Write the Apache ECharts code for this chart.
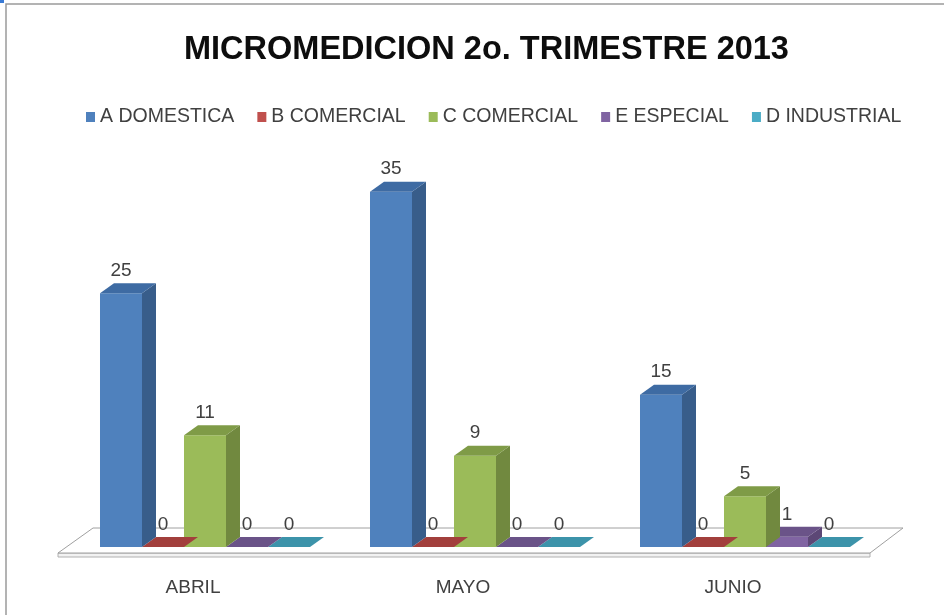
<!DOCTYPE html>
<html>
<head>
<meta charset="utf-8">
<title>MICROMEDICION 2o. TRIMESTRE 2013</title>
<script src="https://cdn.jsdelivr.net/npm/echarts@6/dist/echarts.min.js"></script>
<style>
	html,body{margin:0;padding:0;background:#fff;}
	#main{width:944px;height:615px;}
</style>
</head>
<body>
<div id="main"></div>
<script>
//datos
var meses = ['ABRIL', 'MAYO', 'JUNIO'];
var nombres = ['A DOMESTICA', 'B COMERCIAL', 'C COMERCIAL', 'E ESPECIAL', 'D INDUSTRIAL'];
var aDomestica = [25, 35, 15];
var bComercial = [0, 0, 0];
var cComercial = [11, 9, 5];
var eEspecial = [0, 0, 1];
var dIndustrial = [0, 0, 0];
var valores = [aDomestica, bComercial, cComercial, eEspecial, dIndustrial];

//colores: frente, lado, arriba
var colores = [
	['#4f81bd', '#385d8a', '#3e6ba3'],
	['#c0504d', '#8c3836', '#a23f3c'],
	['#9bbb59', '#71893f', '#7f9b47'],
	['#8064a2', '#5c4776', '#6a5388'],
	['#4bacc6', '#357d91', '#3c93aa']
];

var fuente = "'Liberation Sans', Arial, sans-serif";
var gap = 0.2222;
var dx = 14, dy = 10;

var myChart = echarts.init(document.getElementById('main'));

//barra 3d
function barra3d(idx) {
	return function (params, api) {
		var cat = api.value(0);
		var val = api.value(1);
		var base = api.coord([cat, 0]);
		var top = api.coord([cat, val]);
		var band = api.size([1, 0])[0];
		var w = band * (1 - gap) / 5;
		var x0 = base[0] - band * (1 - gap) / 2 + idx * w;
		var x1 = x0 + w;
		var yb = base[1], yt = top[1];
		var c = colores[idx];
		var hijos = [];
		if (yb - yt > 0.5) {
			hijos.push({type: 'rect', shape: {x: x0, y: yt, width: w, height: yb - yt}, style: {fill: c[0]}});
			hijos.push({type: 'polygon', shape: {points: [[x1, yt], [x1 + dx, yt - dy], [x1 + dx, yb - dy], [x1, yb]]}, style: {fill: c[1]}});
		}
		hijos.push({type: 'polygon', shape: {points: [[x0, yt], [x0 + dx, yt - dy], [x1 + dx, yt - dy], [x1, yt]]}, style: {fill: c[2]}});
		hijos.push({type: 'text', style: {
			text: String(val), x: x0 + w / 2, y: yt - dy - 3,
			align: 'center', verticalAlign: 'bottom',
			fill: '#404040', font: '19px ' + fuente
		}});
		return {type: 'group', children: hijos};
	};
}

var series = [];
for (var i = 0; i < nombres.length; i++) {
	series.push({
		name: nombres[i],
		type: 'custom',
		z: 10 - i,
		color: colores[i][0],
		renderItem: barra3d(i),
		encode: {x: 0, y: 1},
		data: valores[i].map(function (v, k) { return [k, v]; })
	});
}

var option = {
	backgroundColor: '#fff',
	animation: false,
	title: {
		text: 'MICROMEDICION 2o. TRIMESTRE 2013',
		left: 179,
		top: 29,
		textStyle: {fontFamily: fuente, fontSize: 32.5, fontWeight: 'bold', color: '#0d0d0d'}
	},
	legend: {
		data: nombres,
		top: 102,
		left: 81,
		itemWidth: 9,
		itemHeight: 10,
		itemGap: 23,
		icon: 'rect',
		textStyle: {fontFamily: fuente, fontSize: 19.5, color: '#404040'}
	},
	grid: {left: 70, right: 64, top: 141, bottom: 68},
	xAxis: {
		type: 'category',
		data: meses,
		axisLine: {show: false},
		axisTick: {show: false},
		axisLabel: {margin: 31, padding: [0, 24, 0, 0], fontFamily: fuente, fontSize: 19, color: '#404040'}
	},
	yAxis: {
		type: 'value',
		min: 0,
		max: 40,
		show: false,
		splitLine: {show: false}
	},
	graphic: [
		//marco
		{type: 'polyline', shape: {points: [[6, 615], [6, 4], [944, 4]]}, style: {stroke: '#9a9a9a', lineWidth: 1.5, fill: null}},
		{type: 'rect', shape: {x: 0, y: 0, width: 4, height: 3}, style: {fill: '#3a7bd5'}},
		//piso
		{type: 'polygon', z: 0, shape: {points: [[58, 557], [870, 557], [870, 553], [58, 553]]}, style: {fill: '#f2f2f2', stroke: '#b0b0b0', lineWidth: 1}},
		{type: 'polygon', z: 0, shape: {points: [[58, 553], [870, 553], [903, 528], [93, 528]]}, style: {fill: '#fff', stroke: '#a0a0a0', lineWidth: 1}}
	],
	series: series
};
myChart.setOption(option);
</script>
</body>
</html>
